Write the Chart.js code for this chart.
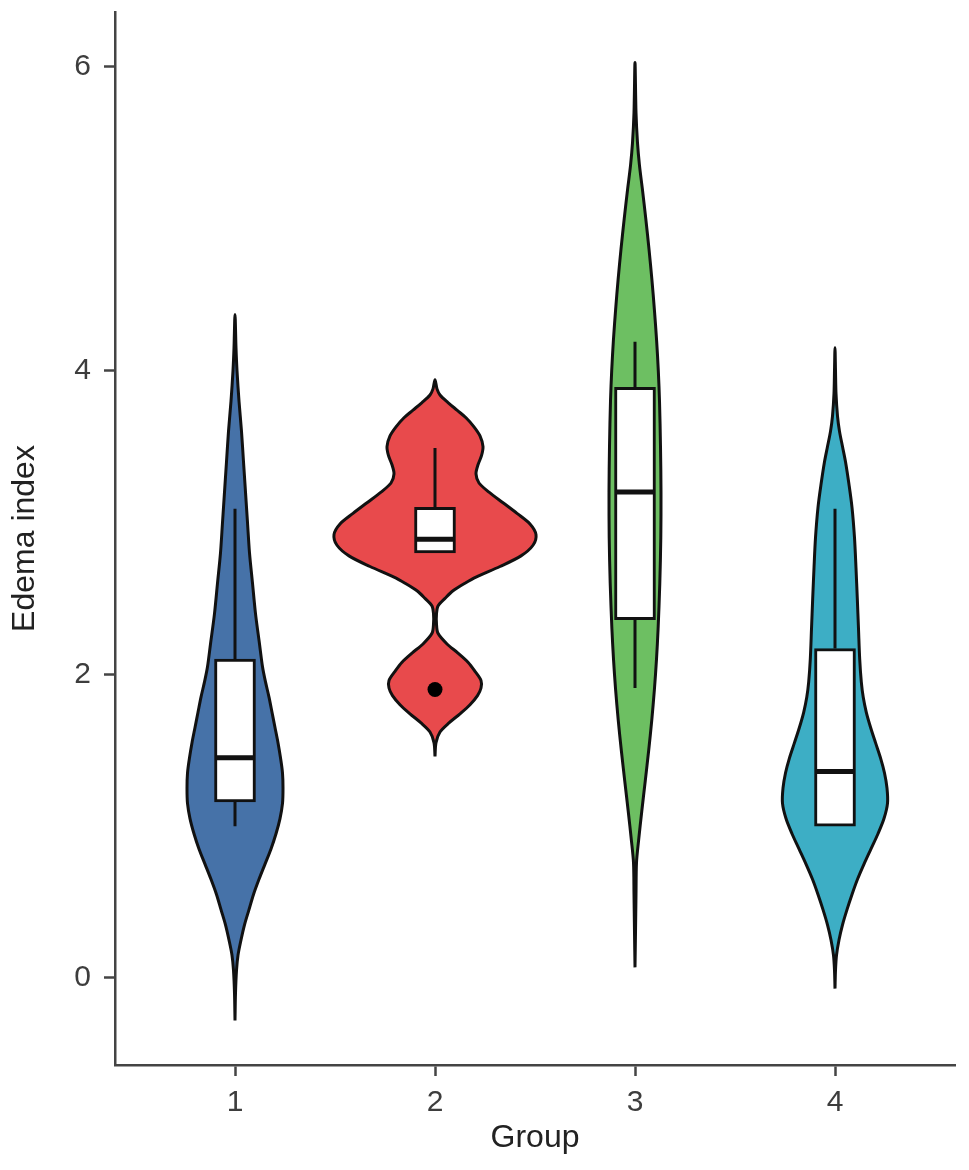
<!DOCTYPE html>
<html>
<head>
<meta charset="utf-8">
<script src="https://cdn.jsdelivr.net/npm/chart.js@4.4.1/dist/chart.umd.min.js"></script>
<style>
html,body{margin:0;padding:0;background:#ffffff;}
#wrap{width:969px;height:1170px;position:relative;}
</style>
</head>
<body>
<div id="wrap"><canvas id="chart"></canvas></div>
<script>
// ---- categories / ticks ----
const groups = ["1", "2", "3", "4"];
const groupPositions = [1, 2, 3, 4];
const yTicks = [0, 2, 4, 6];

// ---- violin outlines: value and half-width (in category units) ----
const g1Values = [-0.28, -0.10, 0.05, 0.15, 0.25, 0.35, 0.45, 0.55, 0.65, 0.75, 0.85, 0.95, 1.05, 1.15, 1.25, 1.35, 1.45, 1.55, 1.65, 1.75, 1.85, 1.95, 2.05, 2.20, 2.40, 2.60, 2.80, 3.00, 3.20, 3.40, 3.60, 3.80, 4.00, 4.15, 4.37];
const g1Widths = [0, 0.0025, 0.0075, 0.015, 0.030, 0.0475, 0.070, 0.0925, 0.120, 0.150, 0.180, 0.205, 0.225, 0.2375, 0.240, 0.2375, 0.2275, 0.215, 0.200, 0.185, 0.170, 0.1525, 0.1375, 0.1225, 0.1025, 0.0875, 0.0725, 0.0625, 0.0525, 0.0425, 0.0325, 0.020, 0.010, 0.005, 0];

const g2Values = [1.46, 1.55, 1.62, 1.68, 1.74, 1.80, 1.86, 1.91, 1.96, 2.02, 2.08, 2.14, 2.20, 2.27, 2.33, 2.40, 2.45, 2.50, 2.55, 2.60, 2.64, 2.71, 2.78, 2.85, 2.92, 2.99, 3.06, 3.13, 3.20, 3.26, 3.32, 3.38, 3.44, 3.50, 3.57, 3.63, 3.69, 3.74, 3.79, 3.84, 3.88, 3.94];
const g2Widths = [0, 0.005, 0.025, 0.070, 0.125, 0.175, 0.2125, 0.230, 0.230, 0.200, 0.165, 0.115, 0.060, 0.015, 0.0075, 0.0075, 0.015, 0.050, 0.090, 0.150, 0.205, 0.325, 0.430, 0.490, 0.505, 0.475, 0.410, 0.340, 0.270, 0.220, 0.205, 0.215, 0.2325, 0.240, 0.225, 0.195, 0.155, 0.110, 0.065, 0.025, 0.010, 0];

const g3Values = [0.07, 0.30, 0.55, 0.76, 0.90, 1.10, 1.30, 1.50, 1.70, 1.90, 2.10, 2.30, 2.60, 2.90, 3.20, 3.50, 3.80, 4.00, 4.20, 4.40, 4.60, 4.80, 5.00, 5.20, 5.35, 5.50, 5.70, 6.03];
const g3Widths = [0, 0.0025, 0.005, 0.0075, 0.0175, 0.034, 0.0515, 0.0685, 0.084, 0.097, 0.1075, 0.1155, 0.124, 0.129, 0.130, 0.1275, 0.1225, 0.1165, 0.108, 0.097, 0.0845, 0.070, 0.054, 0.0365, 0.0225, 0.0125, 0.005, 0];

const g4Values = [-0.07, 0.05, 0.15, 0.25, 0.35, 0.45, 0.55, 0.65, 0.75, 0.85, 0.95, 1.05, 1.15, 1.25, 1.35, 1.45, 1.55, 1.65, 1.75, 1.85, 1.95, 2.10, 2.30, 2.50, 2.70, 2.90, 3.10, 3.25, 3.40, 3.50, 3.60, 3.70, 3.85, 4.00, 4.15];
const g4Widths = [0, 0.0025, 0.0075, 0.020, 0.0375, 0.060, 0.085, 0.1125, 0.145, 0.180, 0.215, 0.245, 0.2625, 0.260, 0.2475, 0.2275, 0.2025, 0.178, 0.1565, 0.141, 0.1315, 0.1235, 0.1175, 0.1115, 0.105, 0.0975, 0.085, 0.070, 0.0525, 0.0375, 0.0225, 0.0125, 0.005, 0.0025, 0];

// ---- box plot statistics ----
const whiskerLow  = [1.00, 2.80, 1.91, 1.00];
const q1          = [1.16, 2.80, 2.36, 1.00];
const median      = [1.45, 2.89, 3.20, 1.36];
const q3          = [2.10, 3.10, 3.89, 2.17];
const whiskerHigh = [3.09, 3.49, 4.19, 3.09];

// ---- outliers ----
const outlierPositions = [2];
const outlierValues = [1.90];

// ---- colours ----
const fillColors = ["#4672A8", "#E84A4C", "#6DBF62", "#3DAEC5"];

const FONT = "'Liberation Sans', Arial, Helvetica, sans-serif";
const BOX_HALF = 0.1;

const violinValues = [g1Values, g2Values, g3Values, g4Values];
const violinWidths = [g1Widths, g2Widths, g3Widths, g4Widths];

function violinPoints(pos, vals, widths) {
  const pts = [];
  for (let i = 0; i < vals.length; i++) pts.push({x: pos - widths[i], y: vals[i]});
  for (let i = vals.length - 2; i >= 0; i--) pts.push({x: pos + widths[i], y: vals[i]});
  return pts;
}

const datasets = [];

groups.forEach((g, i) => {
  datasets.push({
    type: 'line',
    label: 'violin ' + g,
    data: violinPoints(groupPositions[i], violinValues[i], violinWidths[i]),
    borderColor: '#111111',
    borderWidth: 3,
    borderJoinStyle: 'round',
    backgroundColor: fillColors[i],
    fill: 'shape',
    tension: 0.3,
    pointRadius: 0,
    order: 10
  });
});

const whiskerData = [];
groups.forEach((g, i) => {
  const p = groupPositions[i];
  whiskerData.push({x: p, y: whiskerHigh[i]}, {x: p, y: q3[i]}, {x: p, y: null});
  whiskerData.push({x: p, y: q1[i]}, {x: p, y: whiskerLow[i]}, {x: p, y: null});
});
datasets.push({
  type: 'line',
  label: 'whiskers',
  data: whiskerData,
  borderColor: '#111111',
  borderWidth: 3,
  pointRadius: 0,
  fill: false,
  spanGaps: false,
  order: 8
});

datasets.push({
  type: 'bar',
  label: 'boxes',
  data: groups.map((g, i) => ({x: groupPositions[i], y: [q1[i], q3[i]]})),
  backgroundColor: '#ffffff',
  borderColor: '#111111',
  borderWidth: 3,
  borderSkipped: false,
  barThickness: 41,
  order: 6
});

const medianData = [];
groups.forEach((g, i) => {
  const p = groupPositions[i];
  medianData.push({x: p - BOX_HALF, y: median[i]}, {x: p + BOX_HALF, y: median[i]}, {x: p, y: null});
});
datasets.push({
  type: 'line',
  label: 'medians',
  data: medianData,
  borderColor: '#111111',
  borderWidth: 5,
  borderCapStyle: 'butt',
  pointRadius: 0,
  fill: false,
  spanGaps: false,
  order: 4
});

datasets.push({
  type: 'scatter',
  label: 'outliers',
  data: outlierPositions.map((p, i) => ({x: p, y: outlierValues[i]})),
  backgroundColor: '#000000',
  borderWidth: 0,
  pointRadius: 7.5,
  order: 1
});

new Chart(document.getElementById('chart'), {
  type: 'line',
  data: {datasets},
  options: {
    responsive: true,
    maintainAspectRatio: false,
    animation: false,
    devicePixelRatio: 1,
    layout: {padding: {top: 12, right: 14, bottom: 0, left: 0}},
    plugins: {legend: {display: false}, tooltip: {enabled: false}},
    scales: {
      x: {
        type: 'linear',
        min: 0.4,
        max: 4.6,
        offset: false,
        afterBuildTicks: s => { s.ticks = groupPositions.map(v => ({value: v})); },
        afterFit: s => { s.height = 105; },
        ticks: {
          callback: v => { const k = groupPositions.indexOf(v); return k >= 0 ? groups[k] : ''; },
          font: {family: FONT, size: 30},
          color: '#3d3d3d',
          padding: 9,
          maxRotation: 0,
          autoSkip: false
        },
        grid: {offset: false, drawOnChartArea: false, drawTicks: true, tickLength: 11, tickColor: '#444444', tickWidth: 2.5},
        border: {display: true, color: '#444444', width: 2.5},
        title: {display: true, text: 'Group', font: {family: FONT, size: 32}, color: '#222222', padding: {top: 0, bottom: 13}}
      },
      y: {
        type: 'linear',
        min: -0.573,
        max: 6.362,
        afterBuildTicks: s => { s.ticks = yTicks.map(v => ({value: v})); },
        afterFit: s => { s.width = 115; s.paddingTop = 0; s.paddingBottom = 0; },
        ticks: {
          callback: v => String(v),
          font: {family: FONT, size: 30},
          color: '#3d3d3d',
          padding: 13
        },
        grid: {offset: false, drawOnChartArea: false, drawTicks: true, tickLength: 11, tickColor: '#444444', tickWidth: 2.5},
        border: {display: true, color: '#444444', width: 2.5},
        title: {display: true, text: 'Edema index', font: {family: FONT, size: 32}, color: '#222222', padding: {top: 6, bottom: 0}}
      }
    }
  }
});
</script>
</body>
</html>
